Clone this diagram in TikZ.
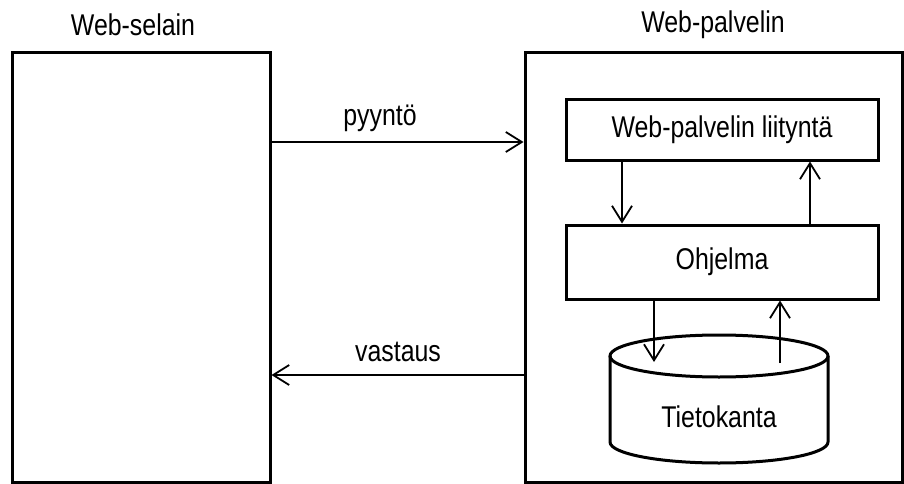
\documentclass[tikz,border=0pt]{standalone}
\usepackage{fontspec}
\setmainfont{Liberation Sans}[FakeStretch=0.83]
\usetikzlibrary{arrows.meta}

\begin{document}
\begin{tikzpicture}[x=1pt, y=-1pt,
    box/.style = {draw, line width=3pt, rectangle, inner sep=0pt},
    lbl/.style = {font=\fontsize{30}{36}\selectfont},
    arr/.style = {line width=1.8pt, -{Straight Barb[length=16pt, width=20pt]}}]
    \useasboundingbox (0,0) rectangle (904,484);
    % outer boxes
    \node[box, minimum width=258pt, minimum height=429pt] (browser) at (141,267.5) {};
    \node[box, minimum width=377pt, minimum height=429pt] (server)  at (713.5,267.5) {};
    \node[lbl] (browsertitle) at (133,25) {Web-selain};
    \node[lbl] (servertitle)  at (713,25) {Web-palvelin};
    % inner boxes
    \node[box, lbl, minimum width=312pt, minimum height=60pt] (iface) at (722,130) {Web-palvelin liityntä};
    \node[box, lbl, minimum width=312pt, minimum height=74pt] (prog)  at (722,262) {Ohjelma};
    % database
    \coordinate (dbtop) at (719,356);
    \coordinate (dbbot) at (719,442);
    \draw[line width=3pt] (dbtop) ellipse [x radius=109pt, y radius=21pt];
    \draw[line width=3pt] ([xshift=-109pt]dbtop) -- ([xshift=-109pt]dbbot)
        arc [start angle=180, end angle=360, x radius=109pt, y radius=21pt]
        -- ([xshift=109pt]dbtop);
    \node[lbl] (db) at (719,417) {Tietokanta};
    % request and response
    \coordinate (req) at (0,142);
    \coordinate (resp) at (0,375);
    \draw[arr] (browser.east |- req) -- (server.west |- req);
    \draw[arr] (server.west |- resp) -- (browser.east |- resp);
    \node[lbl] (reqlbl)  at (380,118) {pyyntö};
    \node[lbl] (resplbl) at (398,352) {vastaus};
    % inside the server
    \draw[arr] ([xshift=-100pt]iface.south) -- ([xshift=-100pt]prog.north);
    \draw[arr] ([xshift=88pt]prog.north) -- ([xshift=88pt]iface.south);
    \draw[arr] ([xshift=-68pt]prog.south) -- ([xshift=-65pt, yshift=-6pt]dbtop);
    \draw[arr] ([xshift=61pt, yshift=-7pt]dbtop) -- ([xshift=58pt]prog.south);
\end{tikzpicture}
\end{document}
